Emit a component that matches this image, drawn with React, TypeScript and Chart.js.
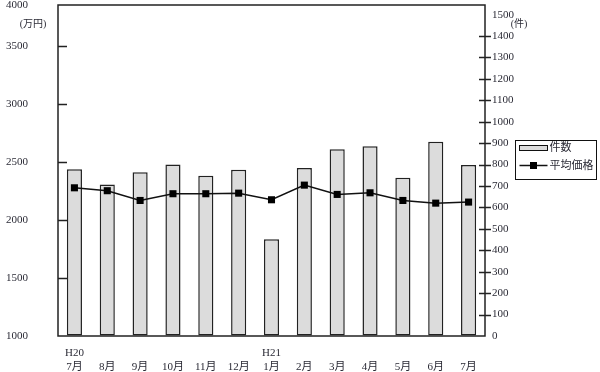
import React, { useEffect, useRef } from "react";
import { Chart, registerables } from "chart.js";

Chart.register(...registerables);

// ---- data ----
const eraLabels = ["H20", "", "", "", "", "", "H21", "", "", "", "", "", ""];
const monthLabels = ["7月", "8月", "9月", "10月", "11月", "12月", "1月", "2月", "3月", "4月", "5月", "6月", "7月"];
const countValues = [778, 707, 764, 801, 748, 776, 452, 784, 872, 886, 739, 907, 798]; // 件数 (right axis)
const priceValues = [2276, 2251, 2167, 2225, 2225, 2230, 2173, 2299, 2219, 2233, 2167, 2144, 2153]; // 平均価格 (left axis, 万円)
const priceTickValues = [1000, 1500, 2000, 2500, 3000, 3500];
// NOTE: the reference's left axis is unevenly spaced (scan distortion): 1000–3500 are ~58px per 500,
// but "4000" sits at the very top of the frame. To match the picture, the left scale runs 1000–3850
// and the top tick (value 3850) is LABELED "4000". Values above 3500 on this axis are therefore not exact.
const priceTopLabel = "4000";
const countLabel = "件数";
const priceLabel = "平均価格";
const priceUnit = "(万円)";
const countUnit = "(件)";

const SERIF = "'Liberation Serif', 'DejaVu Serif', 'Noto Sans CJK JP', serif";
const TEXT = "#2a2a35";
const LINE = "#222";
const BAR_FILL = "#dcdcdc";

const framePlugin = {
  id: "frameDeco",
  afterDraw(chart: any) {
    const { ctx, chartArea: a, scales } = chart;
    const yl = scales.yPrice;
    const yr = scales.yCount;
    ctx.save();
    ctx.strokeStyle = LINE;
    ctx.lineWidth = 1.5;
    ctx.strokeRect(a.left, a.top, a.right - a.left, a.bottom - a.top);
    ctx.beginPath();
    yl.ticks.forEach((t: any) => {
      if (t.value <= yl.min || t.value >= yl.max) return;
      const y = Math.round(yl.getPixelForValue(t.value)) + 0.5;
      ctx.moveTo(a.left, y);
      ctx.lineTo(a.left + 9, y);
    });
    yr.ticks.forEach((t: any) => {
      if (t.value <= 0 || t.value >= 1500) return;
      const y = Math.round(yr.getPixelForValue(t.value)) + 0.5;
      ctx.moveTo(a.right - 6, y);
      ctx.lineTo(a.right + 6, y);
    });
    ctx.stroke();

    // unit labels
    ctx.fillStyle = TEXT;
    ctx.font = "10px " + SERIF;
    ctx.textAlign = "center";
    ctx.textBaseline = "middle";
    ctx.fillText(priceUnit, yl.left + 33, a.top + 19);
    ctx.fillText(countUnit, a.right + 34, a.top + 19);

    // legend
    const lx = a.right + 30.5;
    const ly = a.top + 135.5;
    ctx.lineWidth = 1;
    ctx.strokeStyle = "#111";
    ctx.strokeRect(lx, ly, 81, 39);
    ctx.fillStyle = BAR_FILL;
    ctx.fillRect(lx + 4, ly + 5, 28, 5);
    ctx.strokeRect(lx + 4, ly + 5, 28, 5);
    ctx.lineWidth = 1.5;
    ctx.beginPath();
    ctx.moveTo(lx + 4, ly + 25);
    ctx.lineTo(lx + 32, ly + 25);
    ctx.stroke();
    ctx.fillStyle = "#000";
    ctx.fillRect(lx + 18 - 3.5, ly + 25 - 3.5, 7, 7);
    ctx.fillStyle = TEXT;
    ctx.font = "11px " + SERIF;
    ctx.textAlign = "left";
    ctx.fillText(countLabel, lx + 34, ly + 8);
    ctx.fillText(priceLabel, lx + 34, ly + 26);
    ctx.restore();
  },
};

export default function App() {
  const ref = useRef<HTMLCanvasElement | null>(null);
  useEffect(() => {
    if (!ref.current) return;
    const labels = monthLabels.map((m, i) => [eraLabels[i], m]);
    const chart = new Chart(ref.current, {
      type: "bar",
      data: {
        labels,
        datasets: [
          {
            type: "line",
            label: priceLabel,
            data: priceValues,
            yAxisID: "yPrice",
            borderColor: "#111",
            borderWidth: 1.5,
            pointStyle: "rect",
            pointRadius: 5,
            pointBackgroundColor: "#000",
            pointBorderColor: "#000",
            pointBorderWidth: 0,
            tension: 0,
            order: 0,
          } as any,
          {
            type: "bar",
            label: countLabel,
            data: countValues,
            yAxisID: "yCount",
            backgroundColor: BAR_FILL,
            borderColor: LINE,
            borderWidth: 1.5,
            borderSkipped: false,
            barPercentage: 0.46,
            categoryPercentage: 1,
            order: 1,
          } as any,
        ],
      },
      options: {
        responsive: false,
        animation: false,
        layout: { padding: { top: 4, left: 0, right: 0, bottom: 0 } },
        plugins: { legend: { display: false }, tooltip: { enabled: false } },
        scales: {
          x: {
            grid: { display: false, drawTicks: false },
            border: { display: false },
            ticks: { color: TEXT, font: { family: SERIF, size: 11 }, padding: 11, maxRotation: 0, autoSkip: false },
            afterFit: (s: any) => { s.height = 36; },
          },
          yPrice: {
            position: "left",
            min: 1000,
            max: 3850,
            grid: { display: true, drawOnChartArea: false, drawTicks: true, tickLength: 30, tickColor: "rgba(0,0,0,0)" },
            border: { display: false },
            afterBuildTicks: (s: any) => {
              s.ticks = [...priceTickValues, s.max].map((v) => ({ value: v }));
            },
            ticks: {
              color: TEXT,
              font: { family: SERIF, size: 11, lineHeight: 0.8 },
              padding: 0,
              callback: (v: any) => (v >= 3850 ? priceTopLabel : String(v)),
            },
            afterFit: (s: any) => { s.width = 58; },
          },
          yCount: {
            position: "right",
            min: 0,
            max: 1545,
            grid: { display: true, drawOnChartArea: false, drawTicks: true, tickLength: 7, tickColor: "rgba(0,0,0,0)" },
            border: { display: false },
            afterBuildTicks: (s: any) => {
              s.ticks = s.ticks.filter((t: any) => t.value % 100 === 0);
            },
            ticks: {
              color: TEXT,
              font: { family: SERIF, size: 11, lineHeight: 0.8 },
              padding: 0,
              stepSize: 100,
              callback: (v: any) => String(v),
            },
            afterFit: (s: any) => { s.width = 115; },
          },
        },
      } as any,
      plugins: [framePlugin],
    });
    return () => chart.destroy();
  }, []);
  return (
    <div style={{ position: "absolute", left: 0, top: 0, width: 600, height: 372, background: "#fff" }}>
      <canvas ref={ref} width={600} height={372} style={{ display: "block" }} />
    </div>
  );
}
